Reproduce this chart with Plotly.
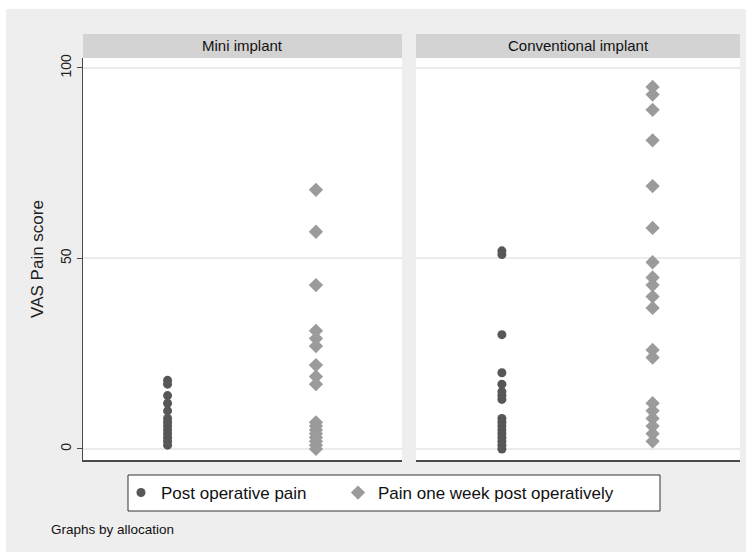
import plotly.graph_objects as go

# VAS pain scores by allocation group
panels = ["Mini implant", "Conventional implant"]
mini_post_op = [18, 17, 14, 12, 10, 8, 7, 6, 5, 4, 3, 2, 1]
mini_one_week = [68, 57, 43, 31, 29, 27, 22, 19, 17, 7, 6, 5, 4, 3, 2, 1, 0]
conv_post_op = [52, 51, 30, 20, 17, 15, 14, 13, 8, 7, 6, 5, 4, 3, 2, 1, 0]
conv_one_week = [95, 93, 89, 81, 69, 58, 49, 45, 43, 40, 37, 26, 24, 12, 10, 8, 6, 4, 2]
series_names = ["Post operative pain", "Pain one week post operatively"]
y_ticks = [0, 50, 100]

W, H = 752, 553
L, R, T, B = 83, 12, 58, 93
pw, ph = W - L - R, H - T - B

def px_x(x):
    return (x - L) / pw

def px_y(y):
    return (H - B - y) / ph

dark = "#575757"
light = "#9b9b9b"
font = "Liberation Sans, Arial, sans-serif"

fig = go.Figure()
data = [(mini_post_op, mini_one_week), (conv_post_op, conv_one_week)]
for i, (post, week) in enumerate(data):
    xa = "x" if i == 0 else "x2"
    ya = "y" if i == 0 else "y2"
    fig.add_trace(go.Scatter(
        x=[1] * len(post), y=post, mode="markers", xaxis=xa, yaxis=ya,
        name=series_names[0], showlegend=(i == 0), legend="legend",
        marker=dict(symbol="circle", size=9, color=dark)))
    fig.add_trace(go.Scatter(
        x=[2] * len(week), y=week, mode="markers", xaxis=xa, yaxis=ya,
        name=series_names[1], showlegend=(i == 0), legend="legend2",
        marker=dict(symbol="diamond", size=11, color=light)))

split_l = px_x(402)
split_r = px_x(416)
yr = [-2.9, 102.6]
xr = [0.43, 2.58]
grid = "#ebebeb"

legend_common = dict(orientation="h", xanchor="left", yanchor="middle",
                     y=px_y(493), bgcolor="rgba(0,0,0,0)", borderwidth=0,
                     font=dict(size=17, color="#111"), itemwidth=30)

fig.update_layout(
    width=W, height=H,
    margin=dict(l=L, r=R, t=T, b=B),
    paper_bgcolor="white",
    plot_bgcolor="rgba(0,0,0,0)",
    font=dict(family=font, color="#222"),
    xaxis=dict(domain=[0, split_l], range=xr, showticklabels=False, ticks="",
               showgrid=False, zeroline=False, showline=True,
               linecolor="#4a4a4a", linewidth=1.5),
    xaxis2=dict(domain=[split_r, 1], range=xr, showticklabels=False, ticks="",
                showgrid=False, zeroline=False, showline=True,
                linecolor="#4a4a4a", linewidth=1.5, anchor="y2"),
    yaxis=dict(range=yr, tickvals=y_ticks, tickangle=-90, ticks="outside",
               ticklen=5, tickcolor="#4a4a4a", showline=True,
               linecolor="#4a4a4a", linewidth=1, showgrid=True,
               gridcolor=grid, gridwidth=1.5, zeroline=False,
               tickfont=dict(size=14, color="#222"),
               title=dict(text="VAS Pain score", font=dict(size=17, color="#222"),
                          standoff=10)),
    yaxis2=dict(range=yr, tickvals=y_ticks, showticklabels=False, ticks="",
                showline=False, showgrid=True, gridcolor=grid, gridwidth=1.5,
                zeroline=False, anchor="x2", matches="y"),
    legend=dict(legend_common, x=px_x(121)),
    legend2=dict(legend_common, x=px_x(338)),
    showlegend=True,
)

shapes = [
    dict(type="rect", xref="paper", yref="paper",
         x0=px_x(6), x1=px_x(746), y0=px_y(552), y1=px_y(9),
         fillcolor="#eeeeee", line=dict(width=0), layer="below"),
    # legend frame
    dict(type="rect", xref="paper", yref="paper",
         x0=px_x(128), x1=px_x(660), y0=px_y(511), y1=px_y(475),
         fillcolor="white", line=dict(width=1, color="#333"), layer="below"),
]
for xr_ref, yr_ref in [("x domain", "y domain"), ("x2 domain", "y2 domain")]:
    shapes.append(dict(type="rect", xref=xr_ref, yref=yr_ref, x0=0, x1=1, y0=0, y1=1,
                       fillcolor="white", line=dict(width=0), layer="below"))
    shapes.append(dict(type="rect", xref=xr_ref, yref="paper", x0=0, x1=1,
                       y0=px_y(58), y1=px_y(34), fillcolor="#d3d3d3",
                       line=dict(width=0), layer="below"))
fig.update_layout(shapes=shapes)

annotations = []
for name, xref in zip(panels, ["x domain", "x2 domain"]):
    annotations.append(dict(text=name, xref=xref, yref="paper", x=0.5,
                            y=px_y(46), yanchor="middle", showarrow=False,
                            font=dict(size=15, color="#111")))
annotations.append(dict(text="Graphs by allocation", xref="paper", yref="paper",
                        x=px_x(49), y=px_y(529), xanchor="left", yanchor="middle",
                        showarrow=False, font=dict(size=13.5, color="#111")))
fig.update_layout(annotations=annotations)

fig.write_html("out.html")
